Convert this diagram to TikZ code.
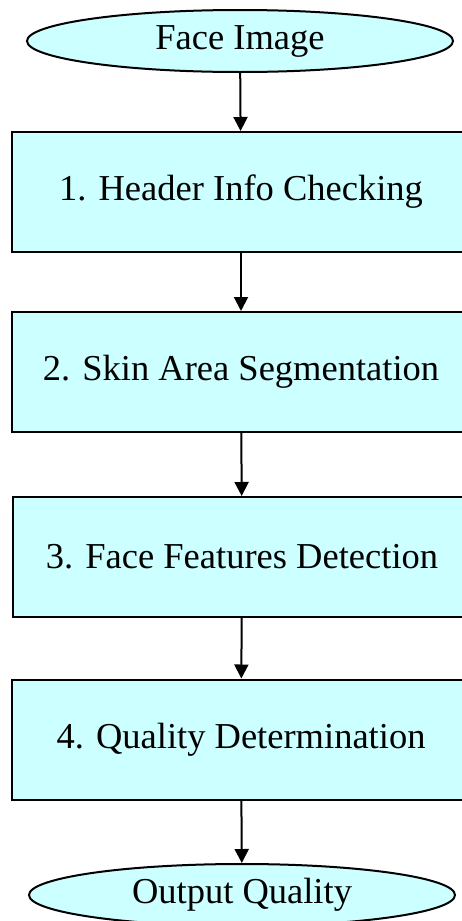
\documentclass[tikz,border=0pt]{standalone}
\usepackage{fontspec}
\setmainfont{Liberation Serif}
\usetikzlibrary{arrows.meta,shapes.geometric}
\definecolor{boxcyan}{HTML}{CCFFFF}
\tikzstyle{terminal}=[ellipse,draw,fill=boxcyan,line width=2pt,minimum width=426pt,minimum height=62pt,inner sep=0pt]
\tikzstyle{process}=[rectangle,draw,fill=boxcyan,line width=2pt,minimum width=459pt,minimum height=120pt,inner sep=0pt]
\tikzstyle{flow}=[draw,line width=2pt,-{Triangle[width=14pt,length=14pt]}]

\begin{document}
\begin{tikzpicture}[x=1pt,y=-1pt,font=\fontsize{36.5}{44}\selectfont]
        \useasboundingbox (0,0) rectangle (462,921);
        \node[terminal] (img) at (240,41) {Face Image};
        \node[process] (hdr) at (241,192) {1. Header Info Checking};
        \node[process] (skin) at (241,372) {2. Skin Area Segmentation};
        \node[process] (feat) at (242,557) {3. Face Features Detection};
        \node[process] (qual) at (241,739.5) {4. Quality Determination};
        \node[terminal] (out) at (242,895) {Output Quality};
        \draw[flow] (img) to (hdr);
        \draw[flow] (hdr) to (skin);
        \draw[flow] (skin) to (feat);
        \draw[flow] (feat) to (qual);
        \draw[flow] (qual) to (out);
\end{tikzpicture}
\end{document}
